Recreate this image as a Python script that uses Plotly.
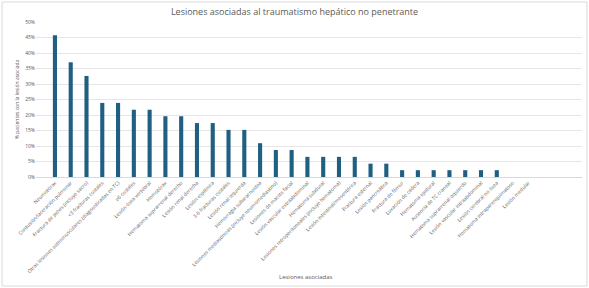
import plotly.graph_objects as go

categories = [
    "Neumotórax",
    "Contusión/laceración pulmonar",
    "Fractura de pelvis (incluye sacro)",
    "<3 fracturas costales",
    "Otras lesiones osteomusculares (diagnosticadas en TC)",
    "≥6 costales",
    "Lesión ósea vertebral",
    "Hemotórax",
    "Hematoma suprarrenal derecho",
    "Lesión renal derecha",
    "Lesión esplénica",
    "3-6 fracturas costales",
    "Lesión renal izquierda",
    "Hemorragia subaracnoidea",
    "Lesiones mediastínicas (incluye neumomediastino)",
    "Lesiones de macizo facial",
    "Lesión vascular extraabdominal",
    "Hematoma subdural",
    "Lesiones retroperitoneales (incluye hematoma)",
    "Lesión intestinal/mesentérica",
    "Fractura esternal",
    "Lesión pancreática",
    "Fractura de fémur",
    "Luxación de cadera",
    "Hematoma epidural",
    "Ausencia de TC craneal",
    "Hematoma suprarrenal izquierdo",
    "Lesión vascular intraabdominal",
    "Lesión cerebral no ósea",
    "Hematoma intraparenquimatoso",
    "Lesión medular",
]

values = [45.7, 37.0, 32.6, 23.9, 23.9, 21.7, 21.7, 19.6, 19.6, 17.4, 17.4,
          15.2, 15.2, 10.9, 8.7, 8.7, 6.5, 6.5, 6.5, 6.5, 4.3, 4.3,
          2.2, 2.2, 2.2, 2.2, 2.2, 2.2, 2.2, 0.0, 0.0]

y_ticks = [0, 5, 10, 15, 20, 25, 30, 35, 40, 45, 50]
y_tick_labels = [f"{v}%" for v in y_ticks]

fig = go.Figure(go.Bar(
    x=categories,
    y=values,
    marker=dict(color="#1F5F82", line=dict(width=0)),
))

fig.update_layout(
    width=589, height=288,
    margin=dict(l=36, r=7, t=22, b=111),
    paper_bgcolor="white", plot_bgcolor="white",
    bargap=0.74,
    showlegend=False,
    hovermode=False,
    font=dict(family="Open Sans, Liberation Sans, sans-serif", color="#595959"),
    title=dict(
        text="Lesiones asociadas al traumatismo hepático no penetrante",
        x=0.5, xanchor="center", y=0.958, yanchor="middle",
        font=dict(size=9, color="#595959"),
    ),
    xaxis=dict(
        range=[-1.2, 33.4],
        tickangle=-45,
        tickfont=dict(size=5, color="#595959"),
        showgrid=False,
        showline=True, linecolor="#D9D9D9", linewidth=1,
        ticks="",
        automargin=False,
    ),
    yaxis=dict(
        range=[0, 50],
        tickvals=y_ticks,
        ticktext=y_tick_labels,
        tickfont=dict(size=5, color="#595959"),
        showgrid=True, gridcolor="#E6E6E6", gridwidth=1,
        zeroline=False,
        ticks="",
        automargin=False,
        title=dict(text="% pacientes con la lesión asociada", font=dict(size=5, color="#595959"), standoff=5),
    ),
    annotations=[dict(text="Lesiones asociadas", xref="paper", yref="paper",
                      x=(305 - 36) / 546, y=-(277 - 177) / 155, xanchor="center", yanchor="middle",
                      showarrow=False, font=dict(size=6, color="#595959"))],
    shapes=[dict(type="rect", xref="paper", yref="paper",
                 x0=-34 / 546, x1=1 + 5 / 546, y0=-(286 - 177) / 155, y1=1 + 20 / 155,
                 line=dict(color="#D9D9D9", width=1), layer="below")],
)

fig.write_html("out.html", config={"staticPlot": True, "displayModeBar": False},
               post_script="document.body.style.margin='0';")
